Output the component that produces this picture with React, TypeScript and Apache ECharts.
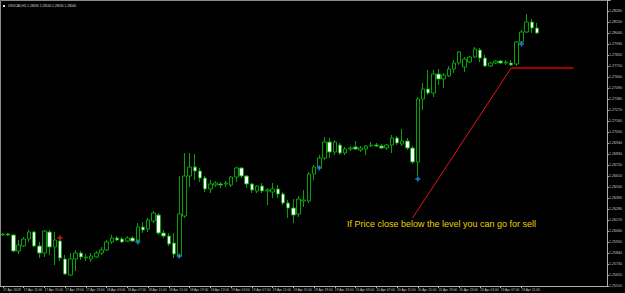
import React, { useEffect, useRef } from "react";
import * as echarts from "echarts";

const symbolName = "USDCAD,H1";
const categories = Array.from({ length: 117 }, (_, i) => String(i));
const xTickLabels = [
  "17 Apr 2018", "17 Apr 11:00", "17 Apr 15:00", "17 Apr 19:00", "17 Apr 23:00",
  "18 Apr 03:00", "18 Apr 07:00", "18 Apr 11:00", "18 Apr 15:00", "18 Apr 19:00", "18 Apr 23:00",
  "19 Apr 03:00", "19 Apr 07:00", "19 Apr 11:00", "19 Apr 15:00", "19 Apr 19:00", "19 Apr 23:00",
  "20 Apr 03:00", "20 Apr 07:00", "20 Apr 11:00", "20 Apr 15:00", "20 Apr 19:00", "20 Apr 23:00",
  "23 Apr 03:00", "23 Apr 07:00", "23 Apr 11:00",
];

const opens = [
  1.2602, 1.2603, 1.2602, 1.2586, 1.2591, 1.2598, 1.2605, 1.2591, 1.2584, 1.2605,
  1.2590, 1.2596, 1.2578, 1.2562, 1.2578, 1.2584, 1.2579, 1.2578, 1.2580, 1.2584,
  1.2587, 1.2595, 1.2599, 1.2598, 1.2596, 1.2599, 1.2596, 1.2610, 1.2608, 1.2616,
  1.2622, 1.2604, 1.2601, 1.2594, 1.2581, 1.2621, 1.2661, 1.2670, 1.2666, 1.2659,
  1.2648, 1.2652, 1.2653, 1.2653, 1.2652, 1.2660, 1.2669, 1.2661, 1.2653, 1.2646,
  1.2651, 1.2646, 1.2645, 1.2648, 1.2643, 1.2634, 1.2629, 1.2623, 1.2636, 1.2636,
  1.2663, 1.2670, 1.2679, 1.2695, 1.2685, 1.2692, 1.2684, 1.2688, 1.2690, 1.2687,
  1.2688, 1.2691, 1.2692, 1.2691, 1.2689, 1.2692, 1.2699, 1.2693, 1.2696, 1.2689,
  1.2675, 1.2738, 1.2748, 1.2744, 1.2763, 1.2758, 1.2761, 1.2768, 1.2774, 1.2770,
  1.2775, 1.2780, 1.2787, 1.2779, 1.2771, 1.2774, 1.2776, 1.2774, 1.2774, 1.2773,
  1.2795, 1.2805, 1.2815, 1.2809,
];
const closes = [
  1.2603, 1.2602, 1.2586, 1.2592, 1.2598, 1.2605, 1.2591, 1.2584, 1.2606, 1.2590,
  1.2597, 1.2579, 1.2563, 1.2578, 1.2584, 1.2580, 1.2580, 1.2581, 1.2584, 1.2587,
  1.2595, 1.2599, 1.2597, 1.2595, 1.2599, 1.2596, 1.2610, 1.2607, 1.2617, 1.2624,
  1.2604, 1.2601, 1.2593, 1.2583, 1.2623, 1.2661, 1.2670, 1.2666, 1.2659, 1.2648,
  1.2653, 1.2654, 1.2652, 1.2654, 1.2660, 1.2669, 1.2661, 1.2653, 1.2647, 1.2651,
  1.2646, 1.2647, 1.2648, 1.2643, 1.2634, 1.2629, 1.2622, 1.2638, 1.2637, 1.2663,
  1.2670, 1.2679, 1.2695, 1.2685, 1.2695, 1.2684, 1.2688, 1.2689, 1.2688, 1.2689,
  1.2691, 1.2692, 1.2691, 1.2689, 1.2692, 1.2699, 1.2694, 1.2696, 1.2689, 1.2675,
  1.2738, 1.2748, 1.2744, 1.2763, 1.2758, 1.2762, 1.2768, 1.2774, 1.2785, 1.2778,
  1.2780, 1.2788, 1.2779, 1.2771, 1.2774, 1.2776, 1.2774, 1.2775, 1.2772, 1.2795,
  1.2805, 1.2815, 1.2809, 1.2804,
];
const lows = [
  1.2601, 1.2601, 1.2585, 1.2583, 1.2590, 1.2595, 1.2590, 1.2579, 1.2580, 1.2582,
  1.2572, 1.2576, 1.2562, 1.2561, 1.2566, 1.2577, 1.2576, 1.2575, 1.2579, 1.2582,
  1.2586, 1.2593, 1.2596, 1.2594, 1.2595, 1.2595, 1.2596, 1.2604, 1.2605, 1.2614,
  1.2602, 1.2599, 1.2591, 1.2579, 1.2579, 1.2619, 1.2650, 1.2657, 1.2655, 1.2645,
  1.2644, 1.2650, 1.2649, 1.2650, 1.2650, 1.2655, 1.2659, 1.2649, 1.2644, 1.2644,
  1.2644, 1.2632, 1.2639, 1.2639, 1.2632, 1.2619, 1.2614, 1.2620, 1.2630, 1.2634,
  1.2657, 1.2670, 1.2677, 1.2679, 1.2682, 1.2682, 1.2682, 1.2686, 1.2687, 1.2685,
  1.2682, 1.2690, 1.2690, 1.2688, 1.2687, 1.2684, 1.2692, 1.2691, 1.2687, 1.2673,
  1.2661, 1.2727, 1.2742, 1.2740, 1.2752, 1.2749, 1.2760, 1.2764, 1.2772, 1.2765,
  1.2774, 1.2779, 1.2775, 1.2770, 1.2770, 1.2773, 1.2773, 1.2772, 1.2771, 1.2771,
  1.2794, 1.2804, 1.2804, 1.2803,
];
const highs = [
  1.2604, 1.2604, 1.2603, 1.2597, 1.2600, 1.2607, 1.2606, 1.2595, 1.2607, 1.2607,
  1.2605, 1.2597, 1.2582, 1.2584, 1.2587, 1.2586, 1.2583, 1.2584, 1.2586, 1.2590,
  1.2597, 1.2602, 1.2601, 1.2600, 1.2601, 1.2601, 1.2614, 1.2615, 1.2619, 1.2626,
  1.2624, 1.2607, 1.2604, 1.2604, 1.2661, 1.2684, 1.2684, 1.2683, 1.2669, 1.2661,
  1.2657, 1.2656, 1.2655, 1.2656, 1.2661, 1.2670, 1.2670, 1.2662, 1.2654, 1.2652,
  1.2654, 1.2649, 1.2654, 1.2652, 1.2645, 1.2637, 1.2638, 1.2641, 1.2647, 1.2665,
  1.2672, 1.2682, 1.2700, 1.2699, 1.2697, 1.2694, 1.2690, 1.2691, 1.2696, 1.2691,
  1.2692, 1.2695, 1.2694, 1.2693, 1.2693, 1.2702, 1.2701, 1.2708, 1.2699, 1.2691,
  1.2740, 1.2754, 1.2767, 1.2767, 1.2768, 1.2764, 1.2771, 1.2777, 1.2786, 1.2780,
  1.2781, 1.2790, 1.2789, 1.2782, 1.2775, 1.2777, 1.2777, 1.2777, 1.2777, 1.2796,
  1.2807, 1.2823, 1.2818, 1.2814,
];

const buySignals = [[26, 1.2595], [34, 1.2581], [61, 1.2669], [80, 1.2658], [100, 1.2793]];
const sellSignals = [[11, 1.2599]];
const trendLine = [[79, 1.2619], [98, 1.2769]];
const levelLine = [[98, 1.2769], [110, 1.2769]];
const noteText = "If Price close below the level you can go for sell";

const yMin = 1.2551;
const yMax = 1.2837;
const yStep = 0.0011;

const crossPath = "path://M3,0H6V3H9V6H6V9H3V6H0V3H3Z";

export default function App() {
  const ref = useRef<HTMLDivElement>(null);
  useEffect(() => {
    const chart = echarts.init(ref.current!, null, { renderer: "svg" });
    const small = "'Liberation Sans', Arial, sans-serif";
    const n = opens.length;
    const last = n - 1;
    const candleData = opens.map((o, i) => [o, closes[i], lows[i], highs[i]]);
    const header = `${symbolName} ${opens[last].toFixed(5)} ${highs[last].toFixed(5)} ${lows[last].toFixed(5)} ${closes[last].toFixed(5)}`;
    chart.setOption({
      animation: false,
      backgroundColor: "#000000",
      grid: { left: 0, top: 0, width: 611, height: 286 },
      xAxis: {
        type: "category",
        data: categories,
        boundaryGap: true,
        axisLine: { show: true, lineStyle: { color: "#b0b0b0", width: 1 } },
        axisTick: {
          show: true,
          alignWithLabel: true,
          length: 2,
          interval: (i: number) => i % 4 === 0 && i < n,
          lineStyle: { color: "#b0b0b0" },
        },
        axisLabel: {
          interval: (i: number) => i % 4 === 0 && i < n,
          formatter: (_v: string, i: number) => (i % 4 === 0 && i < n ? xTickLabels[i / 4] || "" : ""),
          fontSize: 3.3,
          fontFamily: small,
          color: "#c8c8c8",
          align: "left",
          margin: 2,
        },
        splitLine: { show: false },
      },
      yAxis: {
        type: "value",
        position: "right",
        min: yMin,
        max: yMax,
        interval: yStep,
        axisLine: { show: true, lineStyle: { color: "#b0b0b0", width: 1 } },
        axisTick: { show: true, length: 2, lineStyle: { color: "#b0b0b0" } },
        axisLabel: {
          formatter: (v: number) => (v > yMax - yStep / 2 ? "" : v.toFixed(5)),
          fontSize: 3.6,
          fontFamily: small,
          color: "#c8c8c8",
          margin: 2,
        },
        splitLine: { show: false },
      },
      series: [
        {
          type: "candlestick",
          data: candleData,
          barWidth: 4,
          itemStyle: {
            color: "#000000",
            color0: "#ffffff",
            borderColor: "#08a008",
            borderColor0: "#08a008",
            borderWidth: 1,
          },
          markLine: {
            silent: true,
            symbol: "none",
            lineStyle: { opacity: 0 },
            data: [{ yAxis: closes[last] }],
            label: {
              position: "end",
              formatter: () => closes[last].toFixed(5),
              backgroundColor: "#ffffff",
              color: "#000000",
              fontSize: 3.6,
              fontFamily: small,
              padding: [1, 1],
              distance: 2,
            },
          },
        },
        {
          type: "line",
          data: trendLine,
          showSymbol: false,
          lineStyle: { color: "#e01818", width: 1 },
        },
        {
          type: "line",
          data: levelLine,
          showSymbol: false,
          lineStyle: { color: "#a00000", width: 2 },
        },
        {
          type: "scatter",
          data: buySignals,
          symbol: crossPath,
          symbolSize: 5,
          itemStyle: { color: "#1e9bff" },
        },
        {
          type: "scatter",
          data: sellSignals,
          symbol: crossPath,
          symbolSize: 5,
          itemStyle: { color: "#ff2020" },
        },
      ],
      graphic: [
        {
          type: "polyline",
          silent: true,
          shape: { points: [[0.5, 286], [0.5, 0.5], [611, 0.5]] },
          style: { stroke: "#8a8a8a", lineWidth: 1, fill: "none" },
        },
        { type: "rect", shape: { x: 3, y: 5, width: 2, height: 2 }, style: { fill: "#e0e0e0" } },
        {
          type: "text",
          x: 8,
          y: 4.5,
          style: { text: header, fill: "#d8d8d8", fontSize: 3.2, fontFamily: small },
        },
        {
          type: "text",
          x: 347,
          y: 219,
          style: {
            text: noteText,
            fill: "#e8d200",
            fontSize: 9,
            fontFamily: "'Liberation Sans', Arial, sans-serif",
          },
        },
      ],
    });
    return () => chart.dispose();
  }, []);
  return (
    <div
      ref={ref}
      style={{ position: "absolute", left: 0, top: 0, width: 625, height: 293, background: "#000" }}
    />
  );
}
